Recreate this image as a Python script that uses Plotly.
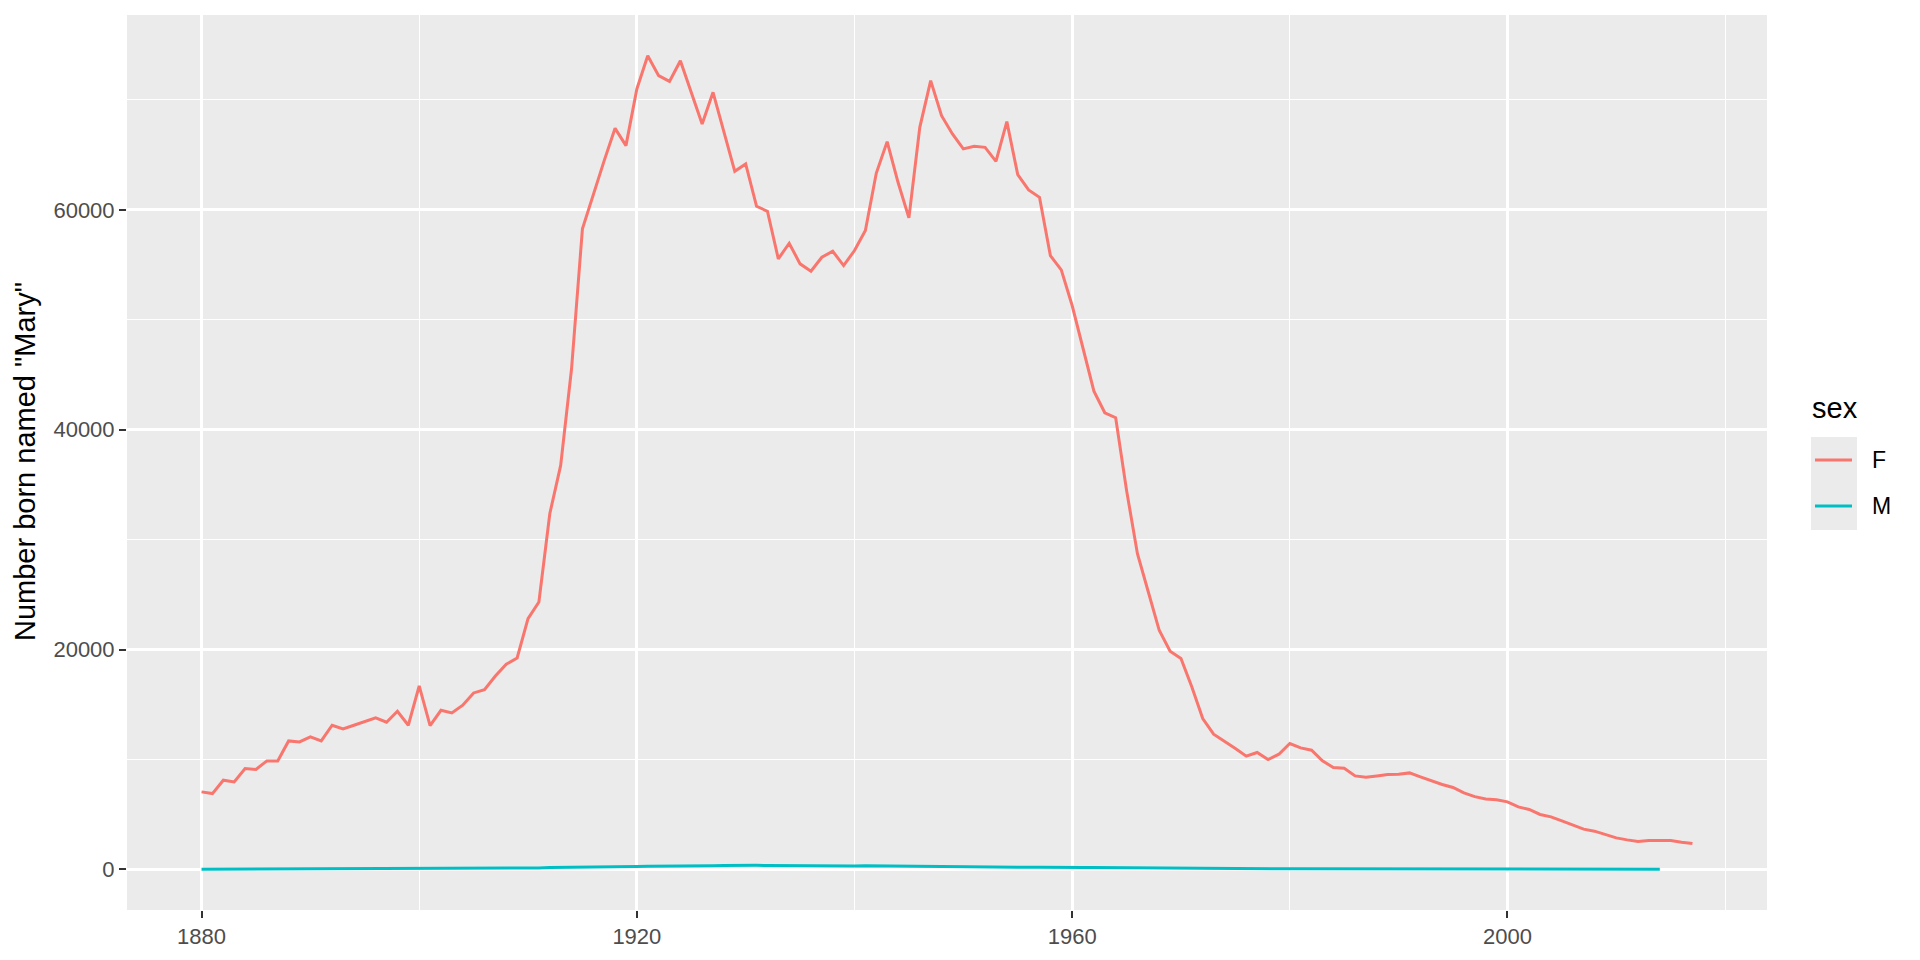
"""Line chart of babies named Mary by sex, ggplot2 look."""

import plotly.graph_objects as go

# ---------------------------------------------------------------------------
# Data
# ---------------------------------------------------------------------------

YEARS_F = list(range(1880, 2018))
COUNT_F = [
    7055, 6900, 8118, 7964, 9180, 9090, 9873, 9873, 11690, 11600,
    12055, 11690, 13118, 12782, 13118, 13480, 13782, 13390, 14390, 13118,
    16690, 13090, 14480, 14236, 14936, 16055, 16360, 17600, 18663, 19236,
    22818, 24327, 32360, 36754, 45545, 58272, 61454, 64482, 67418, 65845,
    71000, 74027, 72209, 71690, 73572, 70690, 67818, 70690, 67060, 63509,
    64180, 60327, 59872, 55545, 56963, 55090, 54418, 55690, 56236, 54936,
    56300, 58118, 63327, 66209, 62509, 59272, 67509, 71754, 68572, 66909,
    65545, 65782, 65690, 64418, 68027, 63209, 61818, 61145, 55845, 54545,
    51300, 47509, 43509, 41545, 41090, 34481, 28727, 25236, 21754, 19845,
    19181, 16600, 13727, 12300, 11690, 11000, 10300, 10636, 10000, 10481,
    11454, 11054, 10845, 9873, 9272, 9209, 8509, 8390, 8509, 8636,
    8663, 8782, 8418, 8054, 7727, 7454, 6963, 6620, 6400, 6340,
    6145, 5690, 5454, 5000, 4782, 4418, 4054, 3663, 3481, 3145,
    2872, 2690, 2545, 2636, 2636, 2636, 2480, 2363,
]

YEARS_M = list(range(1880, 2015))
COUNT_M = [
    27, 29, 30, 32, 36, 38, 33, 36, 34, 40,
    37, 35, 46, 37, 40, 50, 44, 44, 60, 46,
    59, 52, 58, 66, 70, 72, 80, 90, 100, 110,
    120, 130, 170, 190, 210, 230, 240, 250, 260, 250,
    270, 280, 280, 290, 310, 320, 330, 340, 350, 370,
    380, 370, 360, 350, 330, 320, 310, 320, 310, 300,
    310, 340, 330, 300, 280, 260, 230, 220, 210, 200,
    190, 200, 190, 200, 190, 180, 190, 200, 180, 190,
    190, 180, 170, 160, 150, 140, 130, 120, 120, 110,
    110, 100, 90, 80, 80, 70, 70, 70, 60, 60,
    60, 60, 50, 50, 50, 40, 40, 40, 40, 40,
    30, 30, 30, 30, 30, 30, 25, 25, 25, 20,
    20, 20, 20, 20, 20, 15, 15, 15, 15, 15,
    12, 12, 10, 10, 10,
]

SEX_LABELS = ["F", "M"]
X_TICKS = [1880, 1920, 1960, 2000]
X_MINOR = [1900, 1940, 1980, 2020]
Y_TICKS = [0, 20000, 40000, 60000]
Y_MINOR = [10000, 30000, 50000, 70000]

# ---------------------------------------------------------------------------
# ggplot2 palette / geometry
# ---------------------------------------------------------------------------

COL_F = "#F8766D"
COL_M = "#00BFC4"
PANEL_BG = "#EBEBEB"
FONT = "Liberation Sans, Arial, sans-serif"

W, H = 1920, 960
OFF = 8  # default body margin of the html page
L, R, T, B = 127 - OFF, 153 + OFF, 15 - OFF, 50 + OFF
PW, PH = W - L - R, H - T - B


def px(x):
    """page pixel x -> paper x"""
    return (x - OFF - L) / PW


def py(y):
    """page pixel y -> paper y"""
    return (H - B - (y - OFF)) / PH


def _expand(lo, hi, f=0.05):
    d = (hi - lo) * f
    return [lo - d, hi + d]


fig = go.Figure()
for lab, xs, ys, col in [("F", YEARS_F, COUNT_F, COL_F), ("M", YEARS_M, COUNT_M, COL_M)]:
    fig.add_trace(go.Scatter(
        x=xs, y=ys, mode="lines", name=lab,
        line=dict(color=col, width=3),
        showlegend=False,
    ))

all_x = YEARS_F + YEARS_M
all_y = COUNT_F + COUNT_M

axis_common = dict(
    showline=False,
    zeroline=False,
    gridcolor="white",
    gridwidth=2.6,
    ticks="outside",
    ticklen=7,
    tickwidth=1.8,
    tickcolor="#333333",
    tickfont=dict(family=FONT, size=22, color="#4D4D4D"),
)

fig.update_xaxes(
    range=_expand(min(all_x), max(all_x)),
    tickvals=X_TICKS,
    minor=dict(tickvals=X_MINOR, showgrid=True,
               gridcolor="white", gridwidth=1.3, ticks=""),
    **axis_common,
)
fig.update_yaxes(
    range=_expand(min(all_y), max(all_y)),
    tickvals=Y_TICKS,
    tickformat="d",
    minor=dict(tickvals=Y_MINOR, showgrid=True,
               gridcolor="white", gridwidth=1.3, ticks=""),
    **axis_common,
)

# y axis title and legend title
annotations = [
    dict(text='Number born named "Mary"', x=px(25), y=py(462), xref="paper", yref="paper",
         textangle=-90, showarrow=False, xanchor="center", yanchor="middle",
         font=dict(family=FONT, size=29, color="black")),
    dict(text="sex", x=px(1810), y=py(408), xref="paper", yref="paper",
         showarrow=False, xanchor="left", yanchor="middle",
         font=dict(family=FONT, size=29, color="black")),
]

# legend (ggplot style keys)
shapes = [
    dict(type="rect", xref="paper", yref="paper",
         x0=px(1811), x1=px(1857), y0=py(530), y1=py(437),
         fillcolor=PANEL_BG, line=dict(width=0), layer="below"),
]
for lab, col, yk in [(SEX_LABELS[0], COL_F, 460), (SEX_LABELS[1], COL_M, 506)]:
    shapes.append(dict(type="line", xref="paper", yref="paper",
                       x0=px(1815), x1=px(1852), y0=py(yk), y1=py(yk),
                       line=dict(color=col, width=3)))
    annotations.append(dict(text=lab, x=px(1870), y=py(yk), xref="paper", yref="paper",
                            showarrow=False, xanchor="left", yanchor="middle",
                            font=dict(family=FONT, size=23, color="black")))

fig.update_layout(
    width=W, height=H, autosize=False,
    paper_bgcolor="white",
    plot_bgcolor=PANEL_BG,
    margin=dict(l=L, r=R, t=T, b=B),
    font=dict(family=FONT),
    annotations=annotations,
    shapes=shapes,
)

fig.write_html("out.html")
